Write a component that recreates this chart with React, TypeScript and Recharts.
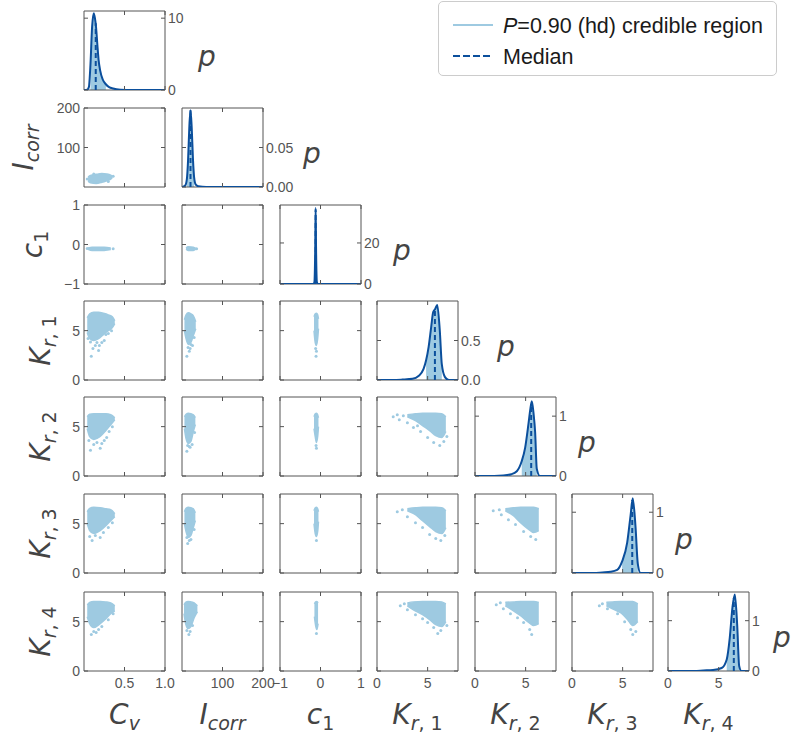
import {
  Area,
  ComposedChart,
  Line,
  ReferenceArea,
  ReferenceLine,
  Scatter,
  XAxis,
  YAxis,
} from "recharts"

const LIGHT = "#9ecae1"
const DARK = "#0b4f9c"
const INK = "#555555"
const TICK_FONT = "'Liberation Sans', Arial, sans-serif"
const MATH_FONT = "'DejaVu Sans', sans-serif"

// grid of panels (page coordinates of each plot box)
const colLeft = [84, 182, 280, 377, 475, 572, 668]
const rowTop = [11, 108, 205, 301, 397, 494, 592]
const PW = 81
const PH = 79
const ML = 46
const MR = 46
const MT = 11
const MB = 26

// parameter axes: C_v, I_corr, c_1, K_r1..K_r4
const paramDomain = [[0, 1], [0, 200], [-1, 1], [0, 8], [0, 8], [0, 8], [0, 8]]
const paramTicks = [[0.5, 1.0], [100, 200], [-1, 0, 1], [0, 5], [0, 5], [0, 5], [0, 5]]
const paramTickLabels = [
  ["0.5", "1.0"],
  ["100", "200"],
  ["\u22121", "0", "1"],
  ["0", "5"],
  ["0", "5"],
  ["0", "5"],
  ["0", "5"],
]

// density axes on the diagonal
const densTop = [11, 0.1, 38.5, 1.0, 1.32, 1.3, 1.57]
const densTicks = [[0, 10], [0, 0.05], [0, 20], [0, 0.5], [0, 1], [0, 1], [0, 1]]
const densTickLabels = [
  ["0", "10"],
  ["0.00", "0.05"],
  ["0", "20"],
  ["0.0", "0.5"],
  ["0", "1"],
  ["0", "1"],
  ["0", "1"],
]

// marginal densities
const cvGrid = [0, 0.04, 0.06, 0.08, 0.1, 0.12, 0.135, 0.15, 0.165, 0.18, 0.2, 0.23, 0.27, 0.31, 0.36, 0.45, 0.6, 1.0]
const cvDens = [0, 0.05, 0.4, 3.6, 8.8, 10.7, 10.0, 8.6, 6.3, 4.2, 2.7, 1.5, 0.8, 0.4, 0.2, 0.05, 0, 0]
const icorrGrid = [0, 8, 12, 15, 18, 21, 24, 27, 30, 34, 40, 60, 200]
const icorrDens = [0, 0.002, 0.01, 0.034, 0.075, 0.097, 0.075, 0.036, 0.012, 0.003, 0.001, 0, 0]
const c1Grid = [-1, -0.17, -0.15, -0.13, -0.12, -0.11, -0.09, -0.07, 1]
const c1Dens = [0, 0, 1, 18, 37, 18, 1, 0, 0]
const kr1Grid = [0, 1.6, 2.5, 3.5, 4.1, 4.6, 4.85, 5.1, 5.35, 5.55, 5.75, 5.95, 6.2, 6.4, 6.7, 7.1, 8]
const kr1Dens = [0, 0, 0.005, 0.015, 0.05, 0.14, 0.25, 0.42, 0.67, 0.86, 0.9, 0.95, 0.63, 0.2, 0.04, 0, 0]
const kr2Grid = [0, 1.0, 2.8, 3.6, 4.13, 4.62, 4.95, 5.28, 5.45, 5.61, 5.78, 5.94, 6.1, 6.4, 8]
const kr2Dens = [0, 0, 0.01, 0.03, 0.08, 0.25, 0.47, 0.87, 1.1, 1.25, 1.05, 0.73, 0.12, 0, 0]
const kr3Grid = [0, 2.15, 3.0, 3.8, 4.46, 4.95, 5.45, 5.78, 6.0, 6.27, 6.5, 6.77, 8]
const kr3Dens = [0, 0, 0.01, 0.02, 0.05, 0.19, 0.5, 0.94, 1.23, 0.77, 0.15, 0, 0]
const kr4Grid = [0, 2.6, 3.5, 4.45, 5.3, 5.8, 6.1, 6.37, 6.6, 6.83, 7.03, 7.25, 8]
const kr4Dens = [0, 0, 0.01, 0.02, 0.06, 0.23, 0.66, 1.27, 1.52, 0.93, 0.1, 0, 0]

// 90% highest-density intervals and medians (value, density at median)
const hdIntervals = [[0.08, 0.27], [12, 30], [-0.13, -0.11], [4.85, 6.4], [4.62, 6.1], [4.95, 6.5], [5.8, 7.03]]
const medians = [0.145, 21, -0.12, 5.72, 5.55, 5.95, 6.5]
const medianDens = [9.3, 0.097, 36, 0.9, 1.18, 1.2, 1.45]

// sample clouds: [x, low, high] extent of the dense part, plus stray samples [x, y]
const bandIcorrCv = [[0.05, 15, 25], [0.08, 11, 29], [0.15, 9, 32], [0.22, 12, 34], [0.28, 16, 33], [0.33, 20, 30], [0.35, 24, 27]]
const dotsIcorrCv = [[0.36, 27], [0.04, 20], [0.3, 14], [0.12, 33]]

const bandC1Cv = [[0.05, -0.12, -0.09], [0.1, -0.15, -0.07], [0.25, -0.15, -0.07], [0.33, -0.13, -0.09]]
const dotsC1Cv = [[0.36, -0.11], [0.04, -0.1]]
const bandC1Icorr = [[10, -0.12, -0.09], [15, -0.15, -0.06], [28, -0.15, -0.07], [34, -0.12, -0.1]]
const dotsC1Icorr = [[36, -0.11]]

const bandKr1Cv = [[0.04, 4.8, 6.3], [0.07, 4.2, 6.7], [0.12, 4.0, 6.85], [0.18, 4.2, 6.85], [0.24, 4.6, 6.75], [0.3, 5.0, 6.6], [0.35, 5.3, 6.4], [0.38, 5.7, 6.0]]
const dotsKr1Cv = [[0.09, 2.4], [0.11, 3.2], [0.18, 3.0], [0.19, 3.5], [0.25, 4.0], [0.27, 4.6], [0.14, 3.5], [0.08, 3.85], [0.22, 3.8], [0.3, 4.7], [0.05, 4.2], [0.34, 5.0], [0.16, 3.8]]
const bandKr1Icorr = [[6, 5.0, 6.1], [10, 4.2, 6.6], [16, 3.6, 6.8], [22, 3.8, 6.7], [28, 4.5, 6.5], [34, 5.2, 5.9]]
const dotsKr1Icorr = [[12, 2.4], [18, 2.9], [20, 3.2], [26, 3.5], [15, 3.3], [30, 4.3], [22, 3.6]]
const bandKr1C1 = [[-0.16, 5.0, 6.4], [-0.13, 3.8, 6.7], [-0.1, 3.5, 6.75], [-0.07, 4.2, 6.6], [-0.05, 5.2, 6.2]]
const dotsKr1C1 = [[-0.11, 2.4], [-0.1, 2.9], [-0.12, 3.2]]

const bandKr2Cv = [[0.04, 4.8, 6.0], [0.07, 4.0, 6.25], [0.12, 3.7, 6.3], [0.2, 4.0, 6.3], [0.27, 4.6, 6.3], [0.33, 5.2, 6.2], [0.38, 5.7, 5.9]]
const dotsKr2Cv = [[0.08, 2.6], [0.2, 2.8], [0.12, 3.2], [0.25, 3.6], [0.28, 3.9], [0.16, 3.4], [0.31, 4.5], [0.06, 3.6], [0.35, 5.0], [0.22, 3.3]]
const bandKr2Icorr = [[6, 4.8, 6.0], [10, 3.8, 6.25], [16, 3.3, 6.35], [22, 3.5, 6.3], [28, 4.5, 6.2], [33, 5.2, 5.9]]
const dotsKr2Icorr = [[12, 2.5], [20, 2.9], [25, 3.2], [18, 3.0], [31, 4.4], [14, 3.1]]
const bandKr2C1 = [[-0.16, 4.8, 6.0], [-0.13, 4.0, 6.3], [-0.1, 3.4, 6.35], [-0.07, 4.0, 6.2], [-0.05, 5.0, 5.9]]
const dotsKr2C1 = [[-0.1, 2.8], [-0.11, 3.1]]
const bandKr2Kr1 = [[3.0, 6.0, 6.2], [3.8, 5.6, 6.3], [4.5, 5.1, 6.35], [5.2, 4.6, 6.35], [5.8, 4.1, 6.35], [6.4, 3.9, 6.3], [6.8, 4.5, 6.0]]
const dotsKr2Kr1 = [[1.6, 6.0], [2.2, 5.7], [2.6, 6.1], [3.0, 5.4], [3.6, 4.9], [4.3, 4.5], [5.0, 3.9], [5.6, 3.4], [6.2, 3.1], [6.6, 3.5], [2.0, 6.2], [4.0, 5.1], [6.9, 4.0]]

const bandKr3Cv = [[0.04, 5.0, 6.2], [0.07, 4.3, 6.55], [0.12, 4.0, 6.65], [0.2, 4.3, 6.6], [0.27, 4.8, 6.5], [0.33, 5.3, 6.4], [0.38, 5.7, 6.0]]
const dotsKr3Cv = [[0.1, 3.3], [0.14, 3.8], [0.2, 3.6], [0.24, 4.1], [0.07, 3.7], [0.3, 4.6], [0.35, 5.1]]
const bandKr3Icorr = [[6, 5.0, 6.2], [10, 4.2, 6.55], [16, 3.6, 6.65], [22, 3.8, 6.6], [28, 4.6, 6.5], [33, 5.3, 6.1]]
const dotsKr3Icorr = [[14, 3.0], [18, 3.3], [22, 3.4], [30, 4.4], [12, 3.6]]
const bandKr3C1 = [[-0.16, 5.0, 6.3], [-0.13, 4.0, 6.6], [-0.1, 3.7, 6.65], [-0.07, 4.2, 6.5], [-0.05, 5.2, 6.2]]
const dotsKr3C1 = [[-0.1, 3.3]]
const bandKr3Kr1 = [[3.0, 6.3, 6.5], [3.8, 5.9, 6.6], [4.5, 5.3, 6.65], [5.2, 4.7, 6.65], [5.8, 4.2, 6.65], [6.4, 4.0, 6.6], [6.8, 4.6, 6.3]]
const dotsKr3Kr1 = [[2.0, 6.2], [2.5, 6.4], [3.0, 5.7], [3.8, 5.1], [4.5, 4.6], [5.2, 3.9], [5.8, 3.5], [6.3, 3.3], [6.7, 3.8]]
const bandKr3Kr2 = [[3.0, 6.3, 6.5], [3.8, 5.8, 6.6], [4.5, 5.1, 6.65], [5.2, 4.5, 6.65], [5.8, 4.1, 6.65], [6.3, 4.3, 6.5]]
const dotsKr3Kr2 = [[1.8, 6.3], [2.4, 6.4], [2.6, 5.9], [3.3, 5.4], [4.0, 4.9], [4.8, 4.2], [5.5, 3.7], [6.0, 3.4]]

const bandKr4Cv = [[0.04, 5.5, 6.7], [0.07, 4.8, 6.95], [0.12, 4.4, 7.05], [0.2, 4.8, 7.05], [0.27, 5.3, 7.0], [0.33, 5.8, 6.9], [0.38, 6.1, 6.6]]
const dotsKr4Cv = [[0.09, 3.7], [0.12, 4.0], [0.18, 4.2], [0.22, 4.5], [0.15, 3.9], [0.3, 5.2], [0.36, 5.8]]
const bandKr4Icorr = [[5, 5.8, 6.7], [9, 4.8, 6.95], [15, 4.3, 7.05], [22, 4.5, 7.0], [30, 5.4, 6.9], [38, 6.0, 6.6]]
const dotsKr4Icorr = [[17, 3.7], [20, 4.0], [12, 4.1], [26, 4.6]]
const bandKr4C1 = [[-0.15, 5.5, 6.8], [-0.12, 4.6, 7.0], [-0.09, 4.2, 7.05], [-0.06, 4.8, 6.9]]
const dotsKr4C1 = [[-0.1, 3.8]]
const bandKr4Kr1 = [[3.0, 6.6, 6.9], [3.6, 6.2, 7.0], [4.5, 5.7, 7.05], [5.2, 5.2, 7.05], [5.8, 4.7, 7.05], [6.4, 4.5, 7.0], [6.8, 5.0, 6.8]]
const dotsKr4Kr1 = [[2.3, 6.6], [2.7, 6.8], [3.0, 6.2], [3.8, 5.7], [4.5, 5.3], [5.0, 4.9], [5.6, 4.4], [6.0, 3.8], [6.3, 4.1], [6.9, 4.6]]
const bandKr4Kr2 = [[3.0, 6.6, 6.95], [3.8, 6.1, 7.0], [4.5, 5.6, 7.05], [5.2, 5.0, 7.05], [5.8, 4.6, 7.05], [6.3, 4.8, 6.95]]
const dotsKr4Kr2 = [[2.1, 6.7], [2.5, 6.9], [2.8, 6.3], [3.5, 5.8], [4.2, 5.4], [4.8, 4.9], [5.4, 4.2], [5.6, 3.7]]
const bandKr4Kr3 = [[3.4, 6.6, 6.95], [4.0, 6.3, 7.0], [4.8, 5.9, 7.05], [5.5, 5.2, 7.05], [6.0, 4.6, 7.05], [6.5, 5.0, 6.8]]
const dotsKr4Kr3 = [[2.7, 6.6], [3.0, 6.8], [3.5, 6.3], [4.5, 5.8], [5.2, 5.0], [5.8, 4.2], [6.0, 3.7], [6.3, 4.0]]

const clouds = [
  { row: 1, col: 0, band: bandIcorrCv, dots: dotsIcorrCv },
  { row: 2, col: 0, band: bandC1Cv, dots: dotsC1Cv },
  { row: 2, col: 1, band: bandC1Icorr, dots: dotsC1Icorr },
  { row: 3, col: 0, band: bandKr1Cv, dots: dotsKr1Cv },
  { row: 3, col: 1, band: bandKr1Icorr, dots: dotsKr1Icorr },
  { row: 3, col: 2, band: bandKr1C1, dots: dotsKr1C1 },
  { row: 4, col: 0, band: bandKr2Cv, dots: dotsKr2Cv },
  { row: 4, col: 1, band: bandKr2Icorr, dots: dotsKr2Icorr },
  { row: 4, col: 2, band: bandKr2C1, dots: dotsKr2C1 },
  { row: 4, col: 3, band: bandKr2Kr1, dots: dotsKr2Kr1 },
  { row: 5, col: 0, band: bandKr3Cv, dots: dotsKr3Cv },
  { row: 5, col: 1, band: bandKr3Icorr, dots: dotsKr3Icorr },
  { row: 5, col: 2, band: bandKr3C1, dots: dotsKr3C1 },
  { row: 5, col: 3, band: bandKr3Kr1, dots: dotsKr3Kr1 },
  { row: 5, col: 4, band: bandKr3Kr2, dots: dotsKr3Kr2 },
  { row: 6, col: 0, band: bandKr4Cv, dots: dotsKr4Cv },
  { row: 6, col: 1, band: bandKr4Icorr, dots: dotsKr4Icorr },
  { row: 6, col: 2, band: bandKr4C1, dots: dotsKr4C1 },
  { row: 6, col: 3, band: bandKr4Kr1, dots: dotsKr4Kr1 },
  { row: 6, col: 4, band: bandKr4Kr2, dots: dotsKr4Kr2 },
  { row: 6, col: 5, band: bandKr4Kr3, dots: dotsKr4Kr3 },
]

const marginalGrids = [cvGrid, icorrGrid, c1Grid, kr1Grid, kr2Grid, kr3Grid, kr4Grid]
const marginalDens = [cvDens, icorrDens, c1Dens, kr1Dens, kr2Dens, kr3Dens, kr4Dens]

// axis titles: main symbol + subscript parts ([text, italic])
const symbols = [
  { main: "C", sub: [["v", true]] },
  { main: "I", sub: [["corr", true]] },
  { main: "c", sub: [["1", false]] },
  { main: "K", sub: [["r", true], [", 1", false]] },
  { main: "K", sub: [["r", true], [", 2", false]] },
  { main: "K", sub: [["r", true], [", 3", false]] },
  { main: "K", sub: [["r", true], [", 4", false]] },
]
const yTitleX = [0, 33, 42, 50, 50, 50, 50]
const pOffset = [33, 40, 32, 39, 22, 22, 24]

function axes(row: number, col: number) {
  const diag = row === col
  const xd = paramDomain[col]
  const yd = diag ? [0, densTop[row]] : paramDomain[row]
  const xt = paramTicks[col]
  const xl = paramTickLabels[col]
  const yt = diag ? densTicks[row] : paramTicks[row]
  const yl = diag ? densTickLabels[row] : paramTickLabels[row]
  const showX = row === 6
  const showLeft = col === 0 && !diag
  const bottom = MT + PH

  const xTick = (p: any) => (
    <g>
      <line x1={p.x} x2={p.x} y1={bottom} y2={bottom - 4} stroke={INK} />
      <line x1={p.x} x2={p.x} y1={MT} y2={MT + 4} stroke={INK} />
      {showX && (
        <text x={p.x} y={bottom + 17} textAnchor="middle" fill={INK} fontSize={14} fontFamily={TICK_FONT}>
          {xl[p.index]}
        </text>
      )}
    </g>
  )
  const yTick = (p: any) => (
    <g>
      <line x1={ML} x2={ML + 4} y1={p.y} y2={p.y} stroke={INK} />
      <line x1={ML + PW} x2={ML + PW - 4} y1={p.y} y2={p.y} stroke={INK} />
      {showLeft && (
        <text x={ML - 4} y={p.y + 5} textAnchor="end" fill={INK} fontSize={14} fontFamily={TICK_FONT}>
          {yl[p.index]}
        </text>
      )}
      {diag && (
        <text x={ML + PW + 3} y={p.y + 5} textAnchor="start" fill={INK} fontSize={14} fontFamily={TICK_FONT}>
          {yl[p.index]}
        </text>
      )}
    </g>
  )

  return [
    <XAxis
      key="x"
      type="number"
      dataKey="x"
      domain={xd}
      ticks={xt}
      interval={0}
      allowDataOverflow
      height={MB}
      tickLine={false}
      axisLine={false}
      tick={xTick}
    />,
    <YAxis
      key="y"
      type="number"
      domain={yd}
      ticks={yt}
      interval={0}
      allowDataOverflow
      width={ML}
      tickLine={false}
      axisLine={false}
      tick={yTick}
    />,
  ]
}

function frame(row: number, col: number) {
  const xd = paramDomain[col]
  const yd = row === col ? [0, densTop[row]] : paramDomain[row]
  return (
    <ReferenceArea
      key="frame"
      x1={xd[0]}
      x2={xd[1]}
      y1={yd[0]}
      y2={yd[1]}
      fill="none"
      stroke={INK}
      strokeWidth={1}
      ifOverflow="visible"
    />
  )
}

function Box({ row, col, children }: { row: number; col: number; children: any }) {
  return (
    <div style={{ position: "absolute", left: colLeft[col] - ML, top: rowTop[row] - MT }}>{children}</div>
  )
}

const smallDot = (p: any) => <circle cx={p.cx} cy={p.cy} r={1.5} fill={LIGHT} />

function CloudPanel({ row, col, band, dots }: any) {
  const rows = band.map((b: number[]) => ({ x: b[0], r: [b[1], b[2]] }))
  const pts = dots.map((d: number[]) => ({ x: d[0], y: d[1] }))
  return (
    <Box row={row} col={col}>
      <ComposedChart
        width={ML + PW + MR}
        height={MT + PH + MB}
        data={rows}
        margin={{ top: MT, right: MR, bottom: 0, left: 0 }}
      >
        {axes(row, col)}
        <Area
          dataKey="r"
          type="monotone"
          fill={LIGHT}
          fillOpacity={1}
          stroke={LIGHT}
          strokeWidth={1.5}
          isAnimationActive={false}
        />
        <Scatter data={pts} dataKey="y" fill={LIGHT} shape={smallDot} isAnimationActive={false} />
        {frame(row, col)}
      </ComposedChart>
    </Box>
  )
}

function MarginalPanel({ idx }: { idx: number }) {
  const [lo, hi] = hdIntervals[idx]
  const grid = marginalGrids[idx]
  const dens = marginalDens[idx]
  const rows = grid.map((x, i) => ({ x, d: dens[i], s: x >= lo && x <= hi ? dens[i] : null }))
  return (
    <Box row={idx} col={idx}>
      <ComposedChart
        width={ML + PW + MR}
        height={MT + PH + MB}
        data={rows}
        margin={{ top: MT, right: MR, bottom: 0, left: 0 }}
      >
        {axes(idx, idx)}
        <Area dataKey="s" type="monotone" fill={LIGHT} fillOpacity={1} stroke="none" isAnimationActive={false} />
        <Line dataKey="d" type="monotone" stroke={DARK} strokeWidth={2} dot={false} isAnimationActive={false} />
        <ReferenceLine
          segment={[
            { x: medians[idx], y: 0 },
            { x: medians[idx], y: medianDens[idx] },
          ]}
          stroke={DARK}
          strokeWidth={2}
          strokeDasharray="5 3"
          ifOverflow="visible"
        />
        {frame(idx, idx)}
      </ComposedChart>
    </Box>
  )
}

function MathText({ x, y, i, rotate }: { x: number; y: number; i: number; rotate?: boolean }) {
  const s = symbols[i]
  return (
    <text
      x={x}
      y={y}
      textAnchor="middle"
      fontSize={28}
      fontFamily={MATH_FONT}
      fill="#444"
      transform={rotate ? `rotate(-90 ${x} ${y})` : undefined}
    >
      <tspan fontStyle="italic">{s.main}</tspan>
      {s.sub.map(([t, it]: any, k: number) => (
        <tspan key={k} fontSize={19} dy={k === 0 ? 6 : 0} fontStyle={it ? "italic" : "normal"}>
          {t}
        </tspan>
      ))}
    </text>
  )
}

function Titles() {
  return (
    <svg width={792} height={733} style={{ position: "absolute", left: 0, top: 0, pointerEvents: "none" }}>
      {colLeft.map((l, i) => (
        <MathText key={`x${i}`} x={l + PW / 2} y={724} i={i} />
      ))}
      {rowTop.map((t, i) =>
        i === 0 ? null : <MathText key={`y${i}`} x={yTitleX[i]} y={t + PH / 2} i={i} rotate />
      )}
      {rowTop.map((t, i) => (
        <text
          key={`p${i}`}
          x={colLeft[i] + PW + pOffset[i]}
          y={t + PH / 2 + 15}
          fontSize={28}
          fontStyle="italic"
          fontFamily={MATH_FONT}
          fill="#444"
        >
          p
        </text>
      ))}
    </svg>
  )
}

function LegendBox() {
  return (
    <div
      style={{
        position: "absolute",
        left: 438,
        top: 1,
        width: 337,
        height: 73,
        border: "1px solid #cccccc",
        borderRadius: 5,
        background: "#fff",
      }}
    >
      <svg width={337} height={73} style={{ position: "absolute", left: 0, top: 0 }}>
        <line x1={14} x2={54} y1={23} y2={23} stroke={LIGHT} strokeWidth={2} />
        <line x1={14} x2={54} y1={54} y2={54} stroke={DARK} strokeWidth={2} strokeDasharray="7 3" />
        <text x={64} y={31} fontSize={21.5} fontFamily={TICK_FONT} fill="#1a1a1a">
          <tspan fontStyle="italic">P</tspan>=0.90 (hd) credible region
        </text>
        <text x={64} y={62} fontSize={21.5} fontFamily={TICK_FONT} fill="#1a1a1a">
          Median
        </text>
      </svg>
    </div>
  )
}

export default function App() {
  return (
    <div style={{ position: "absolute", left: 0, top: 0, width: 792, height: 733, background: "#fff" }}>
      {clouds.map((c) => (
        <CloudPanel key={`${c.row}-${c.col}`} row={c.row} col={c.col} band={c.band} dots={c.dots} />
      ))}
      {marginalGrids.map((_, i) => (
        <MarginalPanel key={`m${i}`} idx={i} />
      ))}
      <Titles />
      <LegendBox />
    </div>
  )
}
